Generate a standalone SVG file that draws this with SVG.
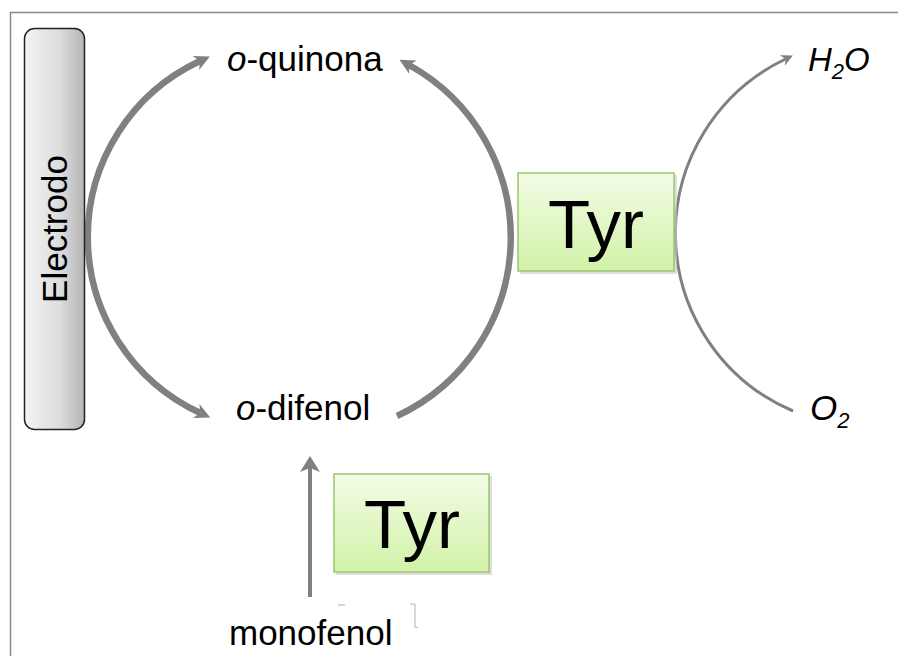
<svg xmlns="http://www.w3.org/2000/svg" width="898" height="656" viewBox="0 0 898 656">
<style>
  .lbl { font-family: "Liberation Sans", Arial, sans-serif; fill: #000; }
  .arc { fill: none; stroke: #808080; stroke-linecap: butt; }
  .thick { stroke-width: 6.5; }
  .thin { stroke-width: 3; }
  .tyrbox { fill: url(#gGreen); stroke: #9cc46c; stroke-width: 1.5; }
  .shadow { fill: #c8c8c8; opacity: 0.6; }
</style>
<defs>
  <linearGradient id="gGreen" x1="0" y1="0" x2="0" y2="1">
    <stop offset="0" stop-color="#f3fce6"/>
    <stop offset="1" stop-color="#d2f2a8"/>
  </linearGradient>
  <linearGradient id="gElec" x1="0" y1="0" x2="1" y2="0">
    <stop offset="0" stop-color="#f4f4f4"/>
    <stop offset="0.6" stop-color="#dcdcdc"/>
    <stop offset="1" stop-color="#b4b4b4"/>
  </linearGradient>
  <marker id="ahBig" markerUnits="userSpaceOnUse" markerWidth="20" markerHeight="20" viewBox="-2 -10 22 20" refX="5" refY="0" orient="auto-start-reverse">
    <path d="M17,0 L0,-8.5 L5,0 L0,8.5 Z" fill="#808080"/>
  </marker>
  <marker id="ahSmall" markerUnits="userSpaceOnUse" markerWidth="16" markerHeight="16" viewBox="-2 -8 18 16" refX="4" refY="0" orient="auto">
    <path d="M13,0 L0,-6.5 L4,0 L0,6.5 Z" fill="#808080"/>
  </marker>
  <marker id="ahVert" markerUnits="userSpaceOnUse" markerWidth="24" markerHeight="24" viewBox="-2 -12 22 24" refX="4" refY="0" orient="auto">
    <path d="M16,0 L0,-10 L4,0 L0,10 Z" fill="#808080"/>
  </marker>
</defs>

<rect x="10.5" y="12.5" width="900" height="660" fill="#ffffff" stroke="#8a8a8a" stroke-width="1.5"/>

<g id="connectors">
  <path id="arc-left" class="arc thick" d="M 200,61 A 194 194 0 0 0 200.3,413" marker-start="url(#ahBig)" marker-end="url(#ahBig)"/>
  <path id="arc-right" class="arc thick" d="M 397,416 A 197 197 0 0 0 409,65" marker-end="url(#ahBig)"/>
  <path id="arc-o2" class="arc thin" d="M 793,411 A 193 193 0 0 1 785.6,59" marker-end="url(#ahSmall)"/>
  <line id="arrow-mono" x1="310" y1="597" x2="310" y2="468" stroke="#808080" stroke-width="4" marker-end="url(#ahVert)"/>
  <g stroke="#b0b0b0" stroke-width="1" fill="none">
    <line x1="338" y1="605" x2="345" y2="605"/>
    <path d="M 410,604 L 415,604 L 415,627 L 418,628"/>
  </g>
</g>

<g id="electrodo">
  <rect x="24.5" y="28.5" width="60" height="401" rx="10" ry="10" fill="url(#gElec)" stroke="#222" stroke-width="1.5"/>
  <text class="lbl" transform="translate(67,229) rotate(-90)" text-anchor="middle" font-size="35">Electrodo</text>
</g>

<g id="o-quinona">
  <text class="lbl" x="227" y="71" font-size="35"><tspan font-style="italic">o</tspan>-quinona</text>
</g>

<g id="o-difenol">
  <text class="lbl" x="236" y="420" font-size="35"><tspan font-style="italic">o</tspan>-difenol</text>
</g>

<g id="monofenol">
  <text class="lbl" x="229" y="645" font-size="35">monofenol</text>
</g>

<g id="h2o">
  <text class="lbl" x="808" y="71" font-size="33" font-style="italic">H<tspan font-size="22" dy="8">2</tspan><tspan dy="-8">O</tspan></text>
</g>

<g id="o2">
  <text class="lbl" x="810" y="420" font-size="35" font-style="italic">O<tspan font-size="22" dy="8">2</tspan></text>
</g>

<g id="tyr-1">
  <rect class="shadow" x="520" y="175" width="157" height="99"/>
  <rect class="tyrbox" x="518" y="173" width="156" height="98"/>
  <text class="lbl" x="596" y="248" text-anchor="middle" font-size="69">Tyr</text>
</g>

<g id="tyr-2">
  <rect class="shadow" x="336" y="476" width="156" height="99"/>
  <rect class="tyrbox" x="334" y="474" width="155" height="98"/>
  <text class="lbl" x="412" y="548" text-anchor="middle" font-size="69">Tyr</text>
</g>
</svg>
